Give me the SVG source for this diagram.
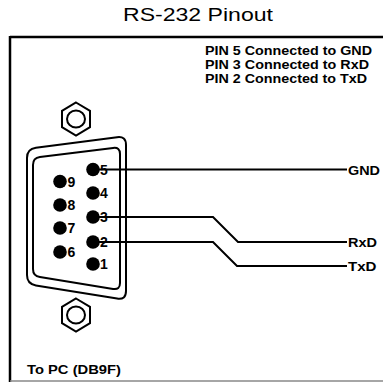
<svg xmlns="http://www.w3.org/2000/svg" width="383" height="382" viewBox="0 0 383 382">
<style>
.t{font-family:"Liberation Sans",Arial,sans-serif;fill:#000}
.b{font-weight:bold}
.pl{font-family:"Liberation Sans",Arial,sans-serif;font-weight:bold;font-size:14px;fill:#000}
.sl{font-family:"Liberation Sans",Arial,sans-serif;font-weight:bold;font-size:13.5px;fill:#000}
.ln{fill:none;stroke:#000;stroke-width:2}
.nut{fill:#fff;stroke:#000;stroke-width:2}
.shell{fill:none;stroke:#000;stroke-width:2}
.pin{fill:#000}
</style>
<rect width="383" height="382" fill="#fff"/>
<text class="t" x="123" y="21" font-size="19" textLength="150" lengthAdjust="spacingAndGlyphs">RS-232 Pinout</text>
<g id="frame">
<line x1="10" y1="37" x2="383" y2="37" stroke="#000" stroke-width="2.5"/>
<line x1="10" y1="36" x2="10" y2="382" stroke="#000" stroke-width="2.5"/>
<line x1="10" y1="381" x2="383" y2="381" stroke="#888" stroke-width="1.5"/>
</g>
<g id="notes">
<text class="t b" x="205" y="54.5" font-size="13.5" textLength="167" lengthAdjust="spacingAndGlyphs">PIN 5 Connected to GND</text>
<text class="t b" x="205" y="68.5" font-size="13.5" textLength="164" lengthAdjust="spacingAndGlyphs">PIN 3 Connected to RxD</text>
<text class="t b" x="205" y="82.5" font-size="13.5" textLength="162" lengthAdjust="spacingAndGlyphs">PIN 2 Connected to TxD</text>
</g>
<g id="connector">
<polygon class="nut" points="76,102.5 90,110.8 90,127.2 76,135.5 62,127.2 62,110.8"/>
<ellipse class="nut" cx="76" cy="119" rx="9" ry="8.5"/>
<polygon class="nut" points="76,298.5 90,306.8 90,323.2 76,331.5 62,323.2 62,306.8"/>
<ellipse class="nut" cx="76" cy="315" rx="9" ry="8.5"/>
<path class="shell" d="M27,158 Q27,149 35.9,147.8 L117.1,137.2 Q126,136 126,145 L126,291 Q126,300 117.1,298.6 L35.9,285.4 Q27,284 27,275 Z"/>
<path class="shell" d="M33,165 Q33,158 39.9,157.1 L113.1,147.9 Q120,147 120,154 L120,283 Q120,290 113.1,288.9 L39.9,277.1 Q33,276 33,269 Z"/>
</g>
<g id="pins">
<g id="pin5"><circle class="pin" cx="93" cy="169.5" r="6.8"/><text class="pl" x="100" y="174.5">5</text></g>
<g id="pin4"><circle class="pin" cx="93" cy="193" r="6.8"/><text class="pl" x="100" y="198">4</text></g>
<g id="pin3"><circle class="pin" cx="93" cy="217" r="6.8"/><text class="pl" x="100" y="222">3</text></g>
<g id="pin2"><circle class="pin" cx="93" cy="242" r="6.8"/><text class="pl" x="100" y="247">2</text></g>
<g id="pin1"><circle class="pin" cx="93" cy="264" r="6.8"/><text class="pl" x="100" y="269">1</text></g>
<g id="pin9"><circle class="pin" cx="60" cy="181.5" r="6.8"/><text class="pl" x="67.5" y="186.5">9</text></g>
<g id="pin8"><circle class="pin" cx="60" cy="205" r="6.8"/><text class="pl" x="67.5" y="210">8</text></g>
<g id="pin7"><circle class="pin" cx="60" cy="228" r="6.8"/><text class="pl" x="67.5" y="233">7</text></g>
<g id="pin6"><circle class="pin" cx="60" cy="252" r="6.8"/><text class="pl" x="67.5" y="257">6</text></g>
</g>
<g id="connectors">
<polyline class="ln" points="93,169.5 347,169.5"/>
<polyline class="ln" points="93,217 213,217 238,242 347,242"/>
<polyline class="ln" points="93,242 213,242 237,266 347,266"/>
</g>
<g id="signals">
<text class="sl" x="348" y="174.5" textLength="32" lengthAdjust="spacingAndGlyphs">GND</text>
<text class="sl" x="348" y="247" textLength="29" lengthAdjust="spacingAndGlyphs">RxD</text>
<text class="sl" x="348" y="271" textLength="28.5" lengthAdjust="spacingAndGlyphs">TxD</text>
</g>
<text class="t b" x="27" y="374" font-size="13.5" textLength="94" lengthAdjust="spacingAndGlyphs">To PC (DB9F)</text>
</svg>
